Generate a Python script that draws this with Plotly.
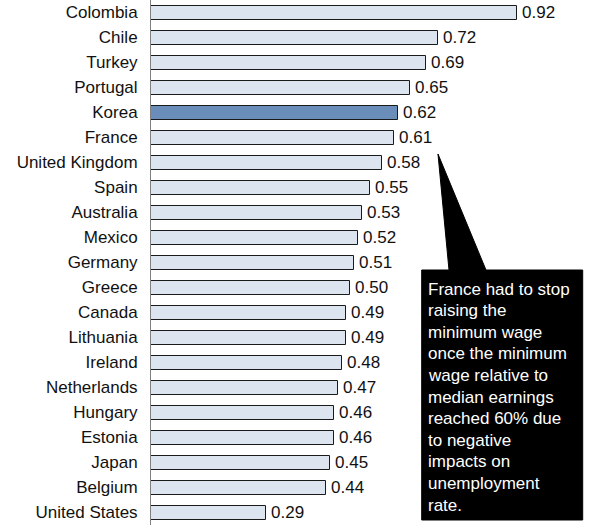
import plotly.graph_objects as go

# Minimum wage relative to median earnings of full-time workers
countries = [
    "Colombia", "Chile", "Turkey", "Portugal", "Korea", "France",
    "United Kingdom", "Spain", "Australia", "Mexico", "Germany", "Greece",
    "Canada", "Lithuania", "Ireland", "Netherlands", "Hungary", "Estonia",
    "Japan", "Belgium", "United States",
]
ratios = [
    0.92, 0.72, 0.69, 0.65, 0.62, 0.61,
    0.58, 0.55, 0.53, 0.52, 0.51, 0.50,
    0.49, 0.49, 0.48, 0.47, 0.46, 0.46,
    0.45, 0.44, 0.29,
]
highlight = "Korea"
note_lines = [
    "France had to stop", "raising the", "minimum wage", "once the minimum",
    "wage relative to", "median earnings", "reached 60% due", "to negative",
    "impacts on", "unemployment", "rate.",
]

W, H = 589, 528
ML, MR, MT, MB = 151, 0, 0, 3
PW, PH = W - ML - MR, H - MT - MB
FONT = "Liberation Sans, Arial, sans-serif"
TXT = "#111111"

bar_colors = ["#6A8DBA" if c == highlight else "#DCE4EF" for c in countries]

fig = go.Figure(go.Bar(
    x=ratios,
    y=countries,
    orientation="h",
    width=0.56,
    marker=dict(color=bar_colors, line=dict(color="#1a1a1a", width=1)),
    hoverinfo="x+y",
))

# value labels just right of each bar end
for c, v in zip(countries, ratios):
    fig.add_annotation(
        x=v, y=c, xref="x", yref="y", text=f"{v:.2f}", showarrow=False,
        xanchor="left", yanchor="middle", xshift=3,
        font=dict(family=FONT, size=17, color=TXT),
    )


def px_x(p):
    return (p - ML) / PW


def px_y(p):
    return 1 - (p - MT) / PH


# callout box with a tail pointing at France
pts = [(421.7, 270), (449, 270), (438, 154), (486, 270), (582.7, 270),
       (582.7, 520), (421.7, 520)]
path = "M " + " L ".join(f"{px_x(a):.5f},{px_y(b):.5f}" for a, b in pts) + " Z"

fig.add_shape(type="path", xref="paper", yref="paper", path=path,
              fillcolor="#000000", line=dict(color="#000000", width=1))

for i, line in enumerate(note_lines):
    fig.add_annotation(
        xref="paper", yref="paper", x=px_x(426), y=px_y(289 + i * 21.6),
        xanchor="left", yanchor="middle", align="left", showarrow=False,
        text=line, font=dict(family=FONT, size=17, color="#ffffff"),
    )

fig.update_layout(
    width=W, height=H,
    margin=dict(l=ML, r=MR, t=MT, b=MB),
    paper_bgcolor="white", plot_bgcolor="white",
    showlegend=False,
    bargap=0,
    font=dict(family=FONT, size=17, color=TXT),
    xaxis=dict(range=[0, PW / 398], visible=False, fixedrange=True),
    yaxis=dict(
        autorange="reversed", showline=True, linecolor="#808080", linewidth=1,
        ticks="", showgrid=False, zeroline=False, ticklabelstandoff=9,
        tickfont=dict(family=FONT, size=17, color=TXT),
    ),
)

fig.write_html("out.html")
